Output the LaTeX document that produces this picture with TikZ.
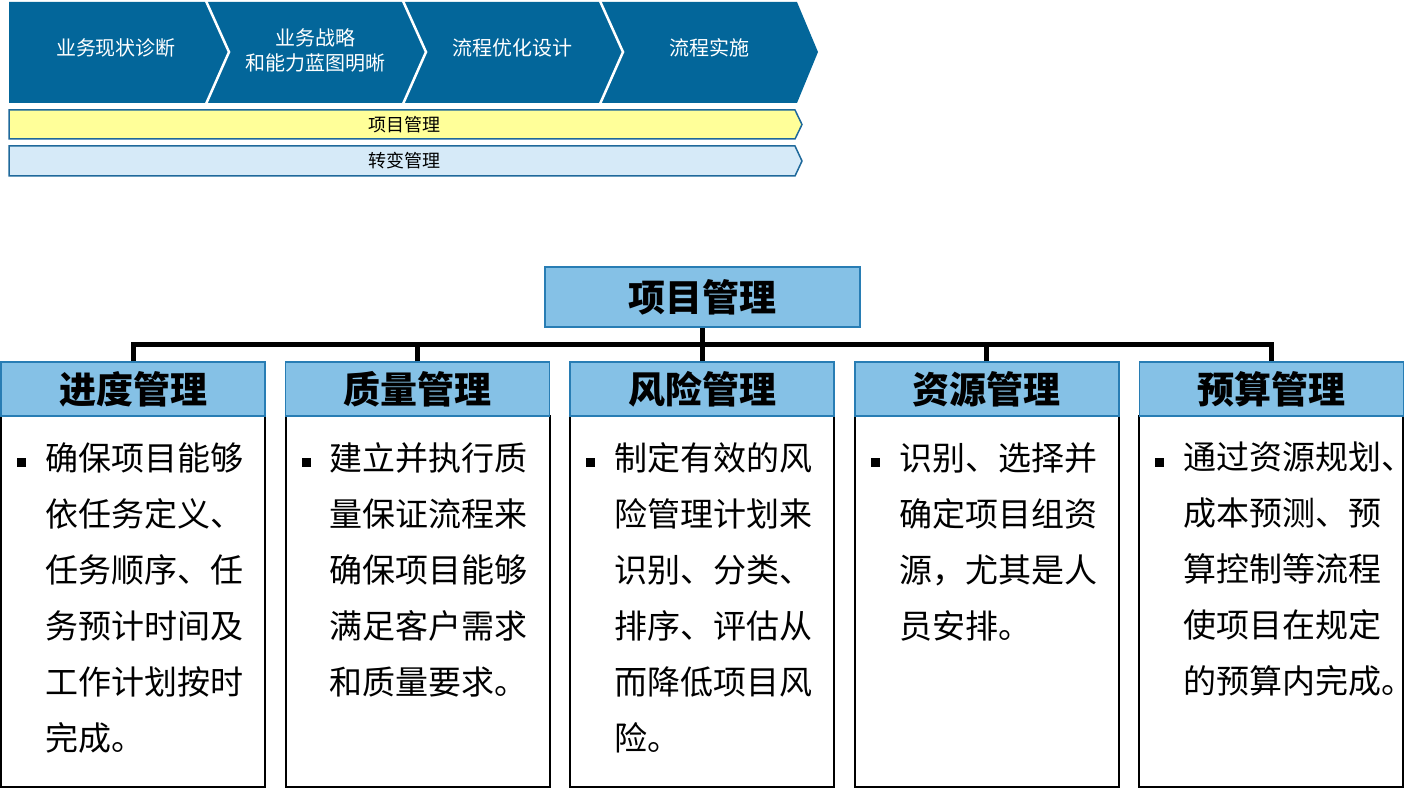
\documentclass[tikz,border=0pt]{standalone}
\usepackage{fontspec}
\setmainfont{Noto Sans CJK SC}
\usetikzlibrary{calc}
\definecolor{chev}{RGB}{3,102,154}
\definecolor{barline}{RGB}{31,105,155}
\definecolor{ybar}{RGB}{255,255,153}
\definecolor{lbar}{RGB}{214,234,248}
\definecolor{hfill}{RGB}{133,193,230}
\definecolor{hline}{RGB}{40,125,180}
\tikzset{
  chevtext/.style={text=white,font=\fontsize{20}{25}\selectfont,align=center,inner sep=0pt},
  bartext/.style={font=\fontsize{18}{20}\selectfont,inner sep=0pt},
  hdr/.style={draw=hline,line width=1.5pt,fill=hfill,minimum width=264pt,minimum height=54pt,inner sep=0pt,font=\fontsize{37}{40}\selectfont\bfseries},
  bodybox/.style={draw=black,line width=2pt,fill=white,minimum width=264pt,minimum height=371pt,inner sep=0pt},
  bodytext/.style={anchor=north west,inner sep=0pt,align=left,font=\fontsize{33}{56}\selectfont},
  bullet/.style={fill=black,minimum width=9pt,minimum height=9pt,inner sep=0pt},
  conn/.style={line width=5pt},
  sep/.style={draw=white,line width=2.5pt}
}
\begin{document}
\begin{tikzpicture}[x=1pt,y=-1pt]
\useasboundingbox (0,0) rectangle (1417,789);
% chevron band
\fill[chev] (9,2) -- (797,2) -- (818,52) -- (797,103) -- (9,103) -- cycle;
\draw[sep] (206,1) -- (229,52) -- (206,104);
\draw[sep] (403,1) -- (426,52) -- (403,104);
\draw[sep] (600,1) -- (623,52) -- (600,104);
\node[chevtext] (c1) at (116,48) {业务现状诊断};
\node[chevtext] (c2) at (315,50) {业务战略\\和能力蓝图明晰};
\node[chevtext] (c3) at (512,48) {流程优化设计};
\node[chevtext] (c4) at (709,48) {流程实施};
% bars
\draw[barline,fill=ybar,line width=1.5pt] (9,110) -- (795,110) -- (802,124.5) -- (795,139) -- (9,139) -- cycle;
\node[bartext] (b1bar) at (404,125) {项目管理};
\draw[barline,fill=lbar,line width=1.5pt] (9,146) -- (795,146) -- (802,161) -- (795,176) -- (9,176) -- cycle;
\node[bartext] (b2bar) at (404,161) {转变管理};
% top box
\node[hdr,minimum width=315pt,minimum height=60pt] (pm) at (702.5,297) {项目管理};
% columns
\foreach \i/\t in {1/进度管理,2/质量管理,3/风险管理,4/资源管理,5/预算管理}{
  \pgfmathsetmacro{\cx}{133+284.6*(\i-1)}
  \node[bodybox] (b\i) at (\cx,601.5) {};
  \node[hdr] (h\i) at (\cx,389) {\t};
  \node[bullet] (d\i) at (\cx-111.5,462) {};
}
\node[bodytext] (t1) at ($(b1.north west)+(45,27)$) {确保项目能够\\依任务定义、\\任务顺序、任\\务预计时间及\\工作计划按时\\完成。};
\node[bodytext] (t2) at ($(b2.north west)+(45,27)$) {建立并执行质\\量保证流程来\\确保项目能够\\满足客户需求\\和质量要求。};
\node[bodytext] (t3) at ($(b3.north west)+(45,27)$) {制定有效的风\\险管理计划来\\识别、分类、\\排序、评估从\\而降低项目风\\险。};
\node[bodytext] (t4) at ($(b4.north west)+(45,27)$) {识别、选择并\\确定项目组资\\源，尤其是人\\员安排。};
\node[bodytext] (t5) at ($(b5.north west)+(45,27)$) {通过资源规划、\\成本预测、预\\算控制等流程\\使项目在规定\\的预算内完成。};
% connectors
\coordinate (bus) at ($(pm.south)+(0,17)$);
\draw[conn] (pm.south) -- (bus);
\draw[conn] (h1.north) -- (h1.north |- bus) -- (h5.north |- bus) -- (h5.north);
\foreach \i in {2,3,4}{\draw[conn] (h\i.north) -- (h\i.north |- bus);}
\end{tikzpicture}
\end{document}
